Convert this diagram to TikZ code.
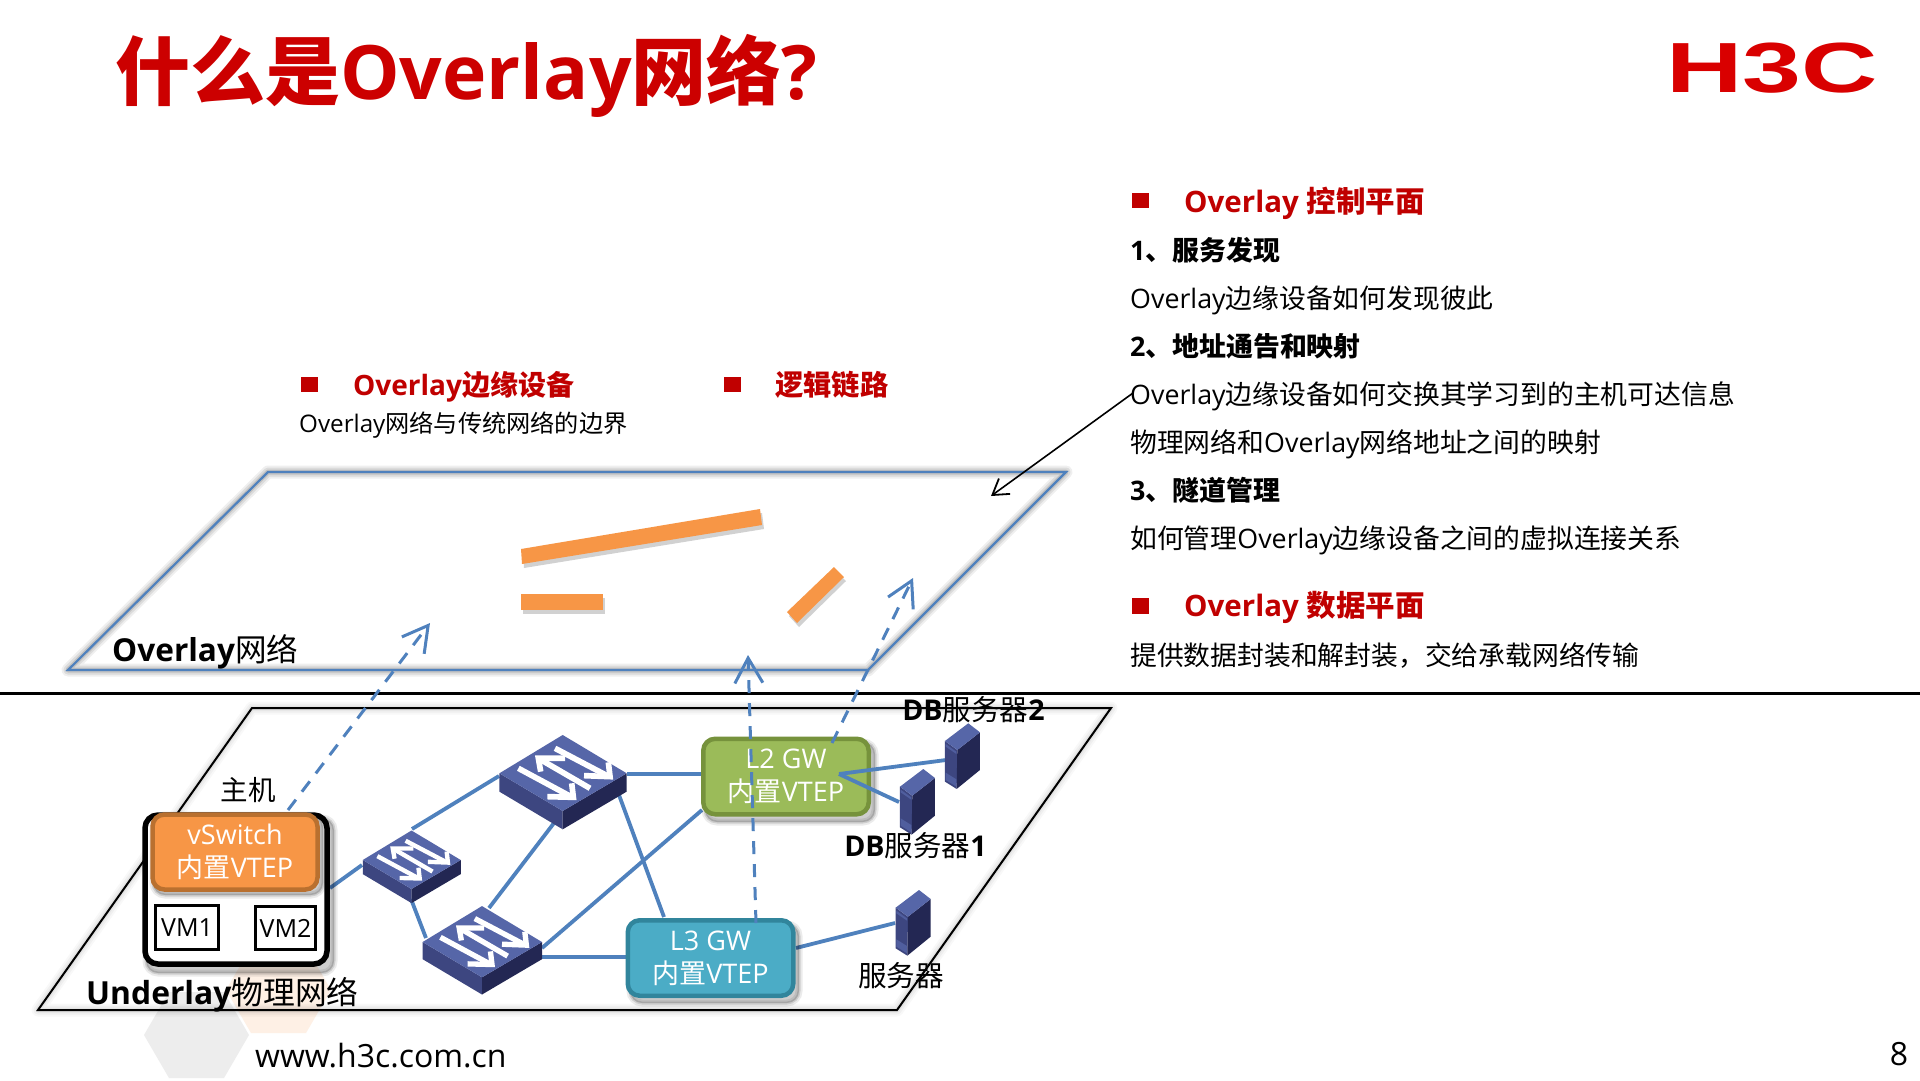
\documentclass[tikz,border=0pt]{standalone}
\usepackage{fontspec}
\usepackage{graphicx}
\usetikzlibrary{arrows.meta}
\setmainfont{Open Sans}
\newfontfamily\cjk{Noto Sans CJK SC}
\newfontfamily\logofont{Liberation Sans}
\newcommand\zh[1]{{\cjk #1}}
\definecolor{h3cred}{HTML}{CC0000}
\definecolor{bulletred}{HTML}{C00000}
\definecolor{linkblue}{HTML}{4F81BD}
\definecolor{barorange}{HTML}{F79646}
\definecolor{orangeedge}{HTML}{B9702F}
\definecolor{gwgreen}{HTML}{9BBB59}
\definecolor{gwgreenedge}{HTML}{76923C}
\definecolor{gwteal}{HTML}{4BACC6}
\definecolor{gwtealedge}{HTML}{31859C}
\definecolor{devtop}{HTML}{5666A8}
\definecolor{devleft}{HTML}{3D4680}
\definecolor{devright}{HTML}{232753}
\tikzset{
  body/.style={anchor=base west,inner sep=0pt,font=\fontsize{26.8}{30}\selectfont,text=black},
  boldbody/.style={anchor=base west,inner sep=0pt,font=\bfseries\fontsize{26.9}{30}\selectfont,text=black},
  redhead/.style={anchor=base west,inner sep=0pt,font=\bfseries\fontsize{29.5}{32}\selectfont,text=bulletred},
  bulletbox/.style={fill=bulletred,draw=none},
  linkline/.style={draw=linkblue,line width=3.8pt},
  upflow/.style={draw=linkblue,line width=3pt,dash pattern=on 13pt off 10pt,-{Straight Barb[length=25pt,width=28pt,line width=3pt]}},
  gwbox/.style={rounded corners=12pt,line width=4.5pt,minimum width=165.5pt,minimum height=75.5pt,inner sep=0pt,align=center,text=white,font=\fontsize{27}{33}\selectfont},
  vmbox/.style={draw=black,line width=3.5pt,fill=white,inner sep=0pt,font=\fontsize{25}{30}\selectfont},
  devlabel/.style={inner sep=0pt,font=\fontsize{28.6}{32}\selectfont,text=black},
  arrowwhite/.style={draw=white,line join=miter,line cap=butt},
}
\newcommand\shadeline[4]{%
  \begin{scope}[xshift=#1pt,yshift=-#2pt]
    \draw[black,opacity=.045*#3,line width=13pt,line join=round] #4;
    \draw[black,opacity=.06*#3,line width=9pt,line join=round] #4;
    \draw[black,opacity=.08*#3,line width=5pt,line join=round] #4;
  \end{scope}}
\newcommand\shadebox[3]{%
  \begin{scope}[xshift=#1pt,yshift=-#2pt]
    \draw[black,fill=black,opacity=.08,line width=7pt,rounded corners=12pt] #3;
    \draw[black,fill=black,opacity=.12,line width=3pt,rounded corners=12pt] #3;
  \end{scope}}
% switch: name, centre x, centre y, scale
\newcommand\switchicon[4]{%
  \begin{scope}[shift={(#2,#3)},x=#4pt,y=-#4pt]
    \fill[devleft] (-190,0)--(0,113)--(0,168)--(-190,55)--cycle;
    \fill[devright] (192,0)--(0,113)--(0,168)--(192,55)--cycle;
    \fill[devtop] (0,-115)--(192,0)--(0,113)--(-190,0)--cycle;
    \begin{scope}[arrowwhite,line width=#4*17pt]
      \draw (-23,-75)--(135,8);
      \draw (137,-33)--(142,10)--(64,7);
      \draw (82,45)--(-68,-42);
      \draw (7,-45)--(-73,-45)--(-66,-5);
      \draw (-133,-15)--(25,70);
      \draw (27,30)--(32,72)--(-46,70);
    \end{scope}
    \coordinate (#1) at (0,0);
  \end{scope}}
% server: name, back-top x, back-top y
\newcommand\servericon[3]{%
  \begin{scope}[shift={(#2,#3)},x=.3333pt,y=-.3333pt]
    \fill[devleft] (-70,53)--(-33,80)--(-35,197)--(-70,175)--cycle;
    \fill[devright] (35,27)--(-33,80)--(-35,197)--(35,140)--cycle;
    \fill[devtop] (-70,53)--(0,0)--(35,27)--(-33,80)--cycle;
    \fill[devtop!75!devleft] (-68,62)--(-36,85)--(-36,92)--(-68,70)--cycle;
    \fill[devtop!75!devleft] (-68,148)--(-36,168)--(-36,190)--(-68,170)--cycle;
    \coordinate (#1) at (0,90);
  \end{scope}}
\begin{document}
\begin{tikzpicture}[x=1pt,y=-1pt]
\useasboundingbox (0,0) rectangle (1920,1080);
\fill[white] (0,0) rectangle (1920,1080);

% decorative hexagons
\fill[barorange!14] (251,947)--(306,947)--(331,990)--(306,1033)--(251,1033)--(226,990)--cycle;
\fill[black!7] (169,992)--(224,992)--(249,1035)--(224,1078)--(169,1078)--(144,1035)--cycle;

% title and logo
\node[name=title,anchor=base west,inner sep=0pt,text=h3cred,font=\bfseries\fontsize{75}{80}\selectfont] at (115,99) {\zh{什么是}Overlay\zh{网络}?};
\node[name=logo,anchor=base west,inner sep=0pt,text=red!85!black,font=\logofont\bfseries\fontsize{71}{71}\selectfont] at (1666,92) {\scalebox{1.49}[1]{H3C}};

% underlay plane
\coordinate (utl) at (252,708);
\coordinate (utr) at (1111,708);
\coordinate (ubr) at (897,1010);
\coordinate (ubl) at (38,1010);
\shadeline{8}{9}{.6}{(utl)--(utr)--(ubr)--(ubl)--cycle}
\draw[black,line width=2pt,line join=miter] (utl)--(utr)--(ubr)--(ubl)--cycle;

% overlay plane
\coordinate (otl) at (268,472);
\coordinate (otr) at (1066,472);
\coordinate (obr) at (868,670);
\coordinate (obl) at (68,670);
\shadeline{9}{10}{1.4}{(otl)--(otr)--(obr)--(obl)--cycle}
\draw[linkblue,line width=2.2pt] (otl)--(otr)--(obr)--(obl)--cycle;

% divider
\coordinate (divl) at (0,693.5);
\coordinate (divr) at (1920,693.5);
\draw[black,line width=2.6pt] (divl)--(divr);

% logical links
\begin{scope}[xshift=2pt,yshift=-4pt]
  \fill[black,opacity=.18] (521,549)--(760,509)--(762,525)--(522,564)--cycle;
  \fill[black,opacity=.18] (521,594)--(603,594)--(603,610)--(521,610)--cycle;
  \fill[black,opacity=.18] (834,567)--(844,577)--(797,623)--(787,612)--cycle;
\end{scope}
\fill[barorange] (521,549)--(760,509)--(762,525)--(522,564)--cycle;
\fill[barorange] (521,594)--(603,594)--(603,610)--(521,610)--cycle;
\fill[barorange] (834,567)--(844,577)--(797,623)--(787,612)--cycle;

% connector end points
\coordinate (hostE) at (330,888);
\coordinate (smW) at (362,865);
\coordinate (smN) at (412,829);
\coordinate (smS) at (411,899);
\coordinate (upW) at (499,776);
\coordinate (upE) at (627,774);
\coordinate (upS) at (554,823);
\coordinate (upSE) at (619,795);
\coordinate (loN) at (489,908);
\coordinate (loNW) at (426,938);
\coordinate (loE) at (542,948);
\coordinate (loSE) at (542,957);
\coordinate (l2W) at (701,774);
\coordinate (l2SW) at (702,810);
\coordinate (l3N) at (664,917);
\coordinate (l3W) at (626,957);
\coordinate (l3E) at (796,948);
\coordinate (l2in) at (839,774);
\coordinate (db2W) at (946,760);
\coordinate (db1W) at (899,802);
\coordinate (srvW) at (895,923);

\draw[linkline] (hostE)--(smW);
\draw[linkline] (smN)--(upW);
\draw[linkline] (smS)--(loNW);
\draw[linkline] (upS)--(loN);
\draw[linkline] (upE)--(l2W);
\draw[linkline] (upSE)--(l3N);
\draw[linkline] (loE)--(l2SW);
\draw[linkline] (loSE)--(l3W);
\draw[linkline] (l3E)--(srvW);

% switches
\switchicon{swUp}{562.7}{773.3}{.3333}
\switchicon{swSm}{411.5}{860}{.2565}
\switchicon{swLo}{482}{942}{.3125}

% host
\shadebox{4}{6}{(142,812) rectangle (330,967)}
\node[name=host,draw=black,fill=white,line width=5.5pt,rounded corners=13pt,minimum width=182pt,minimum height=149pt,inner sep=0pt] at (236,889.5) {};
\shadebox{3}{3}{(150,812) rectangle (320,892)}
\node[name=vsw,gwbox,draw=orangeedge,fill=barorange,minimum width=165pt,minimum height=75pt] at (235,852) {vSwitch\\\zh{内置}VTEP};
\node[name=vm1,vmbox,minimum width=63pt,minimum height=44pt] at (187,927.5) {VM1};
\node[name=vm2,vmbox,minimum width=60pt,minimum height=43pt] at (285.5,928) {VM2};
\node[name=hostlabel,devlabel,font=\fontsize{27.5}{32}\selectfont] at (248,790) {\zh{主机}};

% gateways
\shadebox{4}{6}{(701,736) rectangle (871,816)}
\node[name=l2gw,gwbox,draw=gwgreenedge,fill=gwgreen] at (786,776.5) {L2 GW\\\zh{内置}VTEP};
\shadebox{4}{6}{(626,918) rectangle (795,997)}
\node[name=l3gw,gwbox,draw=gwtealedge,fill=gwteal] at (710.5,958) {L3 GW\\\zh{内置}VTEP};

% servers
\draw[linkline] (l2in)--(db2W);
\draw[linkline] (l2in)--(db1W);
\servericon{db2}{968.3}{723.3}
\servericon{db1}{923.3}{769}
\servericon{srv}{919}{890}
\node[name=db2label,devlabel] at (973.5,710) {\textbf{DB}\zh{服务器}\textbf{2}};
\node[name=db1label,devlabel] at (915.5,846) {\textbf{DB}\zh{服务器}\textbf{1}};
\node[name=srvlabel,devlabel] at (901,976) {\zh{服务器}};

% plane labels
\node[name=overlaylabel,anchor=base west,inner sep=0pt,font=\fontsize{31.6}{36}\selectfont] at (112,661) {\textbf{Overlay}\zh{网络}};
\node[name=underlaylabel,anchor=base west,inner sep=0pt,font=\fontsize{31.8}{36}\selectfont] at (86,1004) {\textbf{Underlay}\zh{物理网络}};

% up arrows
\coordinate (a1s) at (288,810);
\coordinate (a1e) at (430,623);
\coordinate (a2s) at (756,923);
\coordinate (a2e) at (748,655);
\coordinate (a3s) at (832,743);
\coordinate (a3e) at (913,578);
\draw[upflow] (a1s)--(a1e);
\draw[upflow] (a2s)--(a2e);
\draw[upflow] (a3s)--(a3e);

% black pointer
\coordinate (ptrs) at (1133,393);
\coordinate (ptre) at (991,496);
\draw[black,line width=1.6pt,-{Straight Barb[length=15pt,width=19pt,line width=1.8pt]}] (ptrs)--(ptre);

% upper-left texts
\fill[bulletbox] (301,377) rectangle (318,392);
\node[name=edgehead,redhead,font=\bfseries\fontsize{28}{32}\selectfont] at (353,395) {Overlay\zh{边缘设备}};
\node[name=edgebody,body,font=\fontsize{24.2}{28}\selectfont] at (299,432) {Overlay\zh{网络与传统网络的边界}};
\fill[bulletbox] (724,377) rectangle (741,392);
\node[name=linkhead,redhead,font=\bfseries\fontsize{28.3}{32}\selectfont] at (775,395) {\zh{逻辑链路}};

% right texts
\fill[bulletbox] (1132,193) rectangle (1149,208);
\node[name=ctrlhead,redhead] at (1184,212) {Overlay \zh{控制平面}};
\node[name=t1,boldbody] at (1130,260) {1\zh{、服务发现}};
\node[name=t2,body] at (1130,308) {Overlay\zh{边缘设备如何发现彼此}};
\node[name=t3,boldbody] at (1130,356) {2\zh{、地址通告和映射}};
\node[name=t4,body] at (1130,404) {Overlay\zh{边缘设备如何交换其学习到的主机可达信息}};
\node[name=t5,body] at (1130,452) {\zh{物理网络和}Overlay\zh{网络地址之间的映射}};
\node[name=t6,boldbody] at (1130,500) {3\zh{、隧道管理}};
\node[name=t7,body] at (1130,548) {\zh{如何管理}Overlay\zh{边缘设备之间的虚拟连接关系}};
\fill[bulletbox] (1132,598) rectangle (1149,614);
\node[name=datahead,redhead] at (1184,616) {Overlay \zh{数据平面}};
\node[name=t8,body] at (1130,665) {\zh{提供数据封装和解封装，交给承载网络传输}};

% footer
\node[name=url,anchor=base west,inner sep=0pt,font=\fontsize{32}{36}\selectfont] at (255,1067) {www.h3c.com.cn};
\node[name=page,anchor=base,inner sep=0pt,font=\fontsize{32}{36}\selectfont] at (1899,1065) {8};
\end{tikzpicture}
\end{document}
